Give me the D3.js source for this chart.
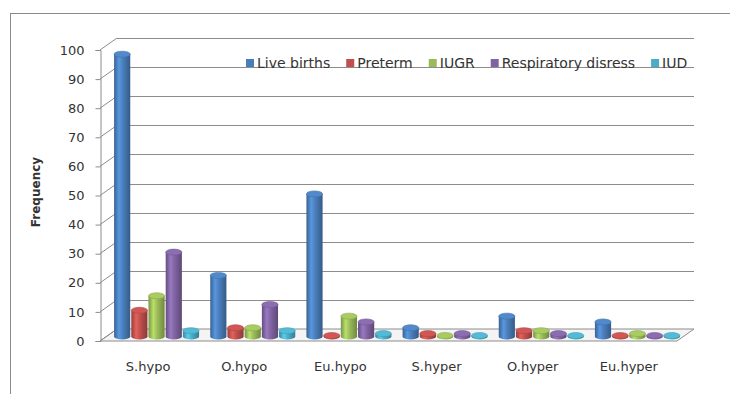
<!DOCTYPE html>
<html>
<head>
<meta charset="utf-8">
<script src="https://cdn.jsdelivr.net/npm/d3@7"></script>
<style>
  body { margin: 0; background: #fff; }
  svg { display: block; }
</style>
</head>
<body>
<div id="wrapper"></div>
<script>
// data
const categories = ["S.hypo", "O.hypo", "Eu.hypo", "S.hyper", "O.hyper", "Eu.hyper"]
const seriesNames = ["Live births", "Preterm", "IUGR", "Respiratory disress", "IUD"]
const liveBirths = [97, 21, 49, 3, 7, 5]
const preterm = [9, 3, 0, 1, 2, 0]
const iugr = [14, 3, 7, 0, 2, 1]
const respiratory = [29, 11, 5, 1, 1, 0]
const iud = [2, 2, 1, 0, 0, 0]
const yTicks = [0, 10, 20, 30, 40, 50, 60, 70, 80, 90, 100]
const colors = ["#4a7ebb", "#c0504d", "#9bbb59", "#8064a2", "#4bacc6"]

const seriesValues = [liveBirths, preterm, iugr, respiratory, iud]

// dimensions
const width = 730
const height = 394
const front = { left: 100, right: 677, top: 50, bottom: 341 }
const depth = { dx: 17, dy: -12 }
const textColor = "#333"

const svg = d3.select("#wrapper")
  .append("svg")
    .attr("width", width)
    .attr("height", height)

// outer frame
svg.append("rect")
  .attr("x", 10.5)
  .attr("y", 13.5)
  .attr("width", 740)
  .attr("height", 400)
  .attr("fill", "none")
  .attr("stroke", "#8a8a8a")

// scales
const yScale = d3.scaleLinear()
  .domain([0, 100])
  .range([front.bottom, front.top])

const xScale = d3.scaleBand()
  .domain(categories)
  .range([front.left, front.right])

const innerScale = d3.scaleBand()
  .domain(seriesNames)
  .range([-42.5, 42.5])
  .paddingInner(0.06)

const gridColor = "#8c8c8c"

// floor
const floor = [
  [front.left, front.bottom],
  [front.right, front.bottom],
  [front.right + depth.dx, front.bottom + depth.dy],
  [front.left + depth.dx, front.bottom + depth.dy]
]
svg.append("polygon")
  .attr("points", floor.map(p => p.join(",")).join(" "))
  .attr("fill", "#f4f4f4")
  .attr("stroke", gridColor)

// back wall gridlines
svg.append("g")
  .selectAll("line")
  .data(yTicks.filter(d => d > 0))
  .join("line")
    .attr("x1", front.left + depth.dx)
    .attr("x2", front.right + depth.dx)
    .attr("y1", d => Math.round(yScale(d) + depth.dy) + 0.5)
    .attr("y2", d => Math.round(yScale(d) + depth.dy) + 0.5)
    .attr("stroke", gridColor)

// side wall diagonals
svg.append("g")
  .selectAll("line")
  .data(yTicks)
  .join("line")
    .attr("x1", front.left)
    .attr("x2", front.left + depth.dx)
    .attr("y1", d => yScale(d))
    .attr("y2", d => yScale(d) + depth.dy)
    .attr("stroke", gridColor)

// front axis
const yAxis = svg.append("g")
  .attr("id", "y-axis")
  .attr("transform", `translate(${front.left + 0.5}, 0)`)
  .call(d3.axisLeft(yScale)
    .tickValues(yTicks)
    .tickSize(5)
    .tickPadding(11))
yAxis.selectAll("path, line").attr("stroke", gridColor)
yAxis.selectAll(".tick text")
  .attr("font-size", 13)
  .attr("font-family", "DejaVu Sans")
  .attr("fill", textColor)

// gradients for cylinders
const defs = svg.append("defs")
colors.forEach((c, i) => {
  const base = d3.color(c)
  const grad = defs.append("linearGradient")
    .attr("id", "cyl" + i)
    .attr("x1", 0).attr("x2", 1).attr("y1", 0).attr("y2", 0)
  grad.append("stop").attr("offset", "0%").attr("stop-color", base.darker(0.7))
  grad.append("stop").attr("offset", "30%").attr("stop-color", base.brighter(0.5))
  grad.append("stop").attr("offset", "55%").attr("stop-color", base)
  grad.append("stop").attr("offset", "100%").attr("stop-color", base.darker(0.9))
})

// draw cylinders
const rx = innerScale.bandwidth() / 2
const ry = 3
const barData = []
categories.forEach((cat, ci) => {
  seriesNames.forEach((s, si) => {
    barData.push({ cat, series: s, si, value: seriesValues[si][ci] })
  })
})

const bars = svg.append("g")
  .selectAll("g")
  .data(barData)
  .join("g")
    .attr("transform", d => {
      const cx = xScale(d.cat) + xScale.bandwidth() / 2 + innerScale(d.series) + rx + depth.dx / 2
      return `translate(${cx}, ${depth.dy / 2 + 1.5})`
    })

bars.append("path")
  .attr("d", d => {
    const yb = yScale(0)
    const yt = Math.min(yScale(d.value), yb - 1)
    return `M${-rx},${yt} L${-rx},${yb} A${rx},${ry} 0 0 0 ${rx},${yb} L${rx},${yt} Z`
  })
  .attr("fill", d => `url(#cyl${d.si})`)

bars.append("ellipse")
  .attr("cx", 0)
  .attr("cy", d => Math.min(yScale(d.value), yScale(0) - 1))
  .attr("rx", rx)
  .attr("ry", ry)
  .attr("fill", d => d3.color(colors[d.si]).brighter(0.25))
  .attr("stroke", d => d3.color(colors[d.si]).darker(0.3))
  .attr("stroke-width", 0.6)

// category labels
svg.append("g")
  .selectAll("text")
  .data(categories)
  .join("text")
    .attr("x", d => xScale(d) + xScale.bandwidth() / 2)
    .attr("y", 371)
    .attr("text-anchor", "middle")
    .attr("font-size", 13)
    .attr("font-family", "DejaVu Sans")
    .attr("fill", textColor)
    .text(d => d)

// y title
svg.append("text")
  .attr("transform", "translate(40, 192) rotate(-90)")
  .attr("text-anchor", "middle")
  .attr("font-size", 12)
  .attr("font-weight", "bold")
  .attr("font-family", "DejaVu Sans")
  .attr("fill", textColor)
  .text("Frequency")

// legend
const legend = svg.append("g").attr("id", "legend")
let lx = 246
seriesNames.forEach((s, i) => {
  legend.append("rect")
    .attr("x", lx)
    .attr("y", 59)
    .attr("width", 8)
    .attr("height", 8)
    .attr("fill", colors[i])
  const t = legend.append("text")
    .attr("x", lx + 11)
    .attr("y", 68)
    .attr("font-size", 14)
    .attr("font-family", "DejaVu Sans")
    .attr("fill", textColor)
    .text(s)
  lx += 11 + t.node().getComputedTextLength() + 16
})
</script>
</body>
</html>
